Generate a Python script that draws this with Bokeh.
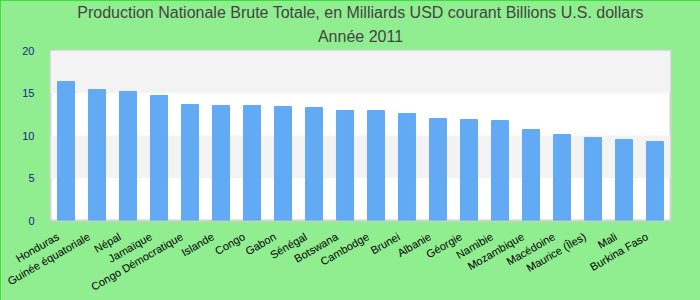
import math
from bokeh.plotting import figure
from bokeh.models import BoxAnnotation, Title, FixedTicker, Range1d
from bokeh.embed import file_html
from bokeh.resources import INLINE

countries = ["Honduras", "Guinée équatoriale", "Népal", "Jamaïque", "Congo Démocratique",
             "Islande", "Congo", "Gabon", "Sénégal", "Botswana", "Cambodge", "Brunei",
             "Albanie", "Géorgie", "Namibie", "Mozambique", "Macédoine", "Maurice (Îles)",
             "Mali", "Burkina Faso"]
values = [16.35, 15.41, 15.18, 14.71, 13.65, 13.53, 13.53, 13.41, 13.29, 12.94,
          12.94, 12.59, 12.0, 11.88, 11.76, 10.7, 10.12, 9.76, 9.53, 9.29]
y_ticks = [0, 5, 10, 15, 20]
title_line1 = "Production Nationale Brute Totale, en Milliards USD courant Billions U.S. dollars"
title_line2 = "Année 2011"

n = len(countries)
idx = list(range(n))

p = figure(x_range=Range1d(-0.5, n - 0.5), y_range=Range1d(0, 20), width=700, height=300,
           output_backend="svg", toolbar_location=None,
           min_border_left=50, min_border_right=30, min_border_top=50, min_border_bottom=80)
p.border_fill_color = "#90ee90"
p.background_fill_color = "#ffffff"
p.outline_line_color = "#d2d2d2"
p.outline_line_width = 2
p.styles = {"outline": "1px solid #22dd22", "outline-offset": "-1px"}

for lo in (5, 15):
    p.add_layout(BoxAnnotation(bottom=lo, top=lo + 5, fill_color="#f3f3f3", fill_alpha=1,
                               line_color=None, level="underlay"))

p.vbar(x=idx, top=values, width=0.55, color="#62aaf4")

p.xgrid.grid_line_color = None
p.ygrid.grid_line_color = None

p.yaxis.ticker = FixedTicker(ticks=y_ticks)
p.yaxis.axis_line_color = None
p.yaxis.major_tick_line_color = None
p.yaxis.minor_tick_line_color = None
p.yaxis.major_label_text_color = "#1a1a8c"
p.yaxis.major_label_text_font = "Liberation Sans"
p.yaxis.major_label_text_font_size = "11px"
p.yaxis.major_label_standoff = 10

# category labels sit slightly left of their bars in the reference
label_shift = 0.26
lab_ticks = [i - label_shift for i in idx]
p.xaxis.ticker = FixedTicker(ticks=lab_ticks)
p.xaxis.major_label_overrides = {t: c for t, c in zip(lab_ticks, countries)}
p.xaxis.axis_line_color = None
p.xaxis.major_tick_line_color = None
p.xaxis.minor_tick_line_color = None
p.xaxis.major_label_orientation = math.pi / 6
p.xaxis.major_label_text_color = "#000000"
p.xaxis.major_label_text_font = "Liberation Sans"
p.xaxis.major_label_text_font_size = "11px"
p.xaxis.major_label_standoff = 9

for txt, so in ((title_line2, 11), (title_line1, 0)):
    p.add_layout(Title(text=txt, align="center", standoff=so, offset=-10,
                       text_font="Liberation Sans", text_font_size="16px",
                       text_font_style="normal", text_color="#444444"), "above")

open("out.html", "w").write(file_html(p, INLINE))
